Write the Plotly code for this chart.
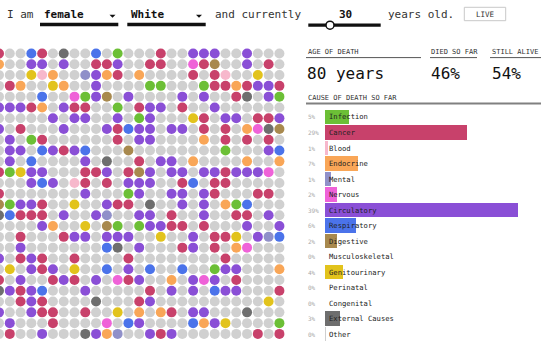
import plotly.graph_objects as go

W, H = 560, 352
FONT = "DejaVu Sans Mono"

# ---- dot grid (one string per row, one character per dot) ----
# . alive (gray)  P circulatory  C cancer  B respiratory  G infection  O endocrine
# Y genitourinary  K external  M nervous  L mental  T digestive  p blood
grid_rows = [
    "C..BC.K..B.G...C..PPP..P...",
    "O..PP.P..CCP..CC..MCT..P.C.",
    "...YpO..LPOC.O....C.Cp..Y..",
    ".CO..YO..P....GG...GCCOCPPC",
    "....B..MGPT.P....P.P..CK.PG",
    "PPPCO.PCC..G.CPP.C..P......",
    ".....P.PP..P.GP...YC.PP.CCP",
    "P.C...P...PCBPP.PP.C.C.OMKT",
    ".P.GC......C.PP....O.C.C.C.",
    ".PP.BPCPB...T........G...PB",
    ".P.B....P.K..C.PP.O....O..O",
    "CGYPP...CCP.CTP.PP.PPCPPPM.",
    "...PBP.pC.C.PPP..CB.CC.....",
    "C.......P...GP..PP.PC...CC.",
    "TGPPC..Y..PCC.K..P.P.OGB...",
    "KBCCC.P..PL..PP.C..P..CC.P.",
    "....PO..Y.TG.GPPCC.C...P..P",
    "..C...CPP.PPP..Y..P.CCY.PLB",
    "..P.......BK.P...CP.C.OM...",
    "P.CPC..C....C........C.....",
    ".Y.PCP.Y..B.P.B..B..GPP...O",
    "C.P..CPC.P.MCP..O.PMP.C....",
    "KPCPB...P.....C.P.P.BPP...C",
    "..CPC....K...CP..........Y.",
    "P..PCC..C..Y.O.OC.PP...K...",
    ".P...C....M.BP....BOPY....G",
    ".C..P...KPOL..PCP.......C.C",
]

dot_colors = {
    ".": "#d0d0d0", "P": "#8a4fd6", "C": "#c8416b", "B": "#4b73ea",
    "G": "#6cbf36", "O": "#f9a657", "Y": "#e2c31c", "K": "#6e6e6e",
    "M": "#ef62d8", "L": "#9090c9", "T": "#a8894e", "p": "#f7b8cc",
}

# ---- cause of death bars ----
categories = ["Infection", "Cancer", "Blood", "Endocrine", "Mental", "Nervous",
              "Circulatory", "Respiratory", "Digestive", "Musculoskeletal",
              "Genitourinary", "Perinatal", "Congenital", "External Causes", "Other"]
bar_values = [4.9, 28.6, 0.7, 6.6, 1.2, 2.4, 39.0, 6.3, 2.4, 0.0, 3.7, 0.0, 0.0, 3.0, 0.2]
pct_labels = ["5%", "29%", "1%", "7%", "1%", "2%", "39%", "6%", "2%", "0%",
              "4%", "0%", "0%", "3%", "0%"]
bar_colors = ["#6cbf36", "#c8416b", "#f7b8cc", "#f9a657", "#9090c9", "#ef62d8",
              "#8a4fd6", "#4b73ea", "#a8894e", "#cccccc", "#e2c31c", "#cccccc",
              "#cccccc", "#6e6e6e", "#cfcfcf"]

header_words = ["I am", "female", "White", "and currently", "30", "years old."]
stat_titles = ["AGE OF DEATH", "DIED SO FAR", "STILL ALIVE"]
stat_values = ["80 years", "46%", "54%"]

xs, ys, cs = [], [], []
for r, row in enumerate(grid_rows):
    for c, ch in enumerate(row):
        xs.append(c)
        ys.append(r)
        cs.append(dot_colors[ch])

fig = go.Figure()
fig.add_trace(go.Scatter(x=xs, y=ys, mode="markers", xaxis="x", yaxis="y",
                         marker=dict(size=10, color=cs, line=dict(width=0)),
                         hoverinfo="skip", showlegend=False))
fig.add_trace(go.Bar(x=bar_values, y=list(range(len(categories))), orientation="h",
                     xaxis="x2", yaxis="y2", width=0.93,
                     marker=dict(color=bar_colors, line=dict(width=0)),
                     hoverinfo="skip", showlegend=False))


def px(x):
    return x / W


def py(y):
    return 1 - y / H


SP = 10.785
X0, Y0 = -1.0, 53.5
grid_w = 297.0

annotations = []


def txt(text, x, y, size, color="#333", bold=False, xanchor="left"):
    annotations.append(dict(text=("<b>%s</b>" % text) if bold else text,
                            x=px(x), y=py(y), xref="paper", yref="paper",
                            xanchor=xanchor, yanchor="middle", showarrow=False,
                            font=dict(family=FONT, size=size, color=color)))


# header sentence
txt(header_words[0], 5, 14, 11)
txt(header_words[1], 42, 14, 11, "#111", True)
txt(header_words[2], 129, 14, 11, "#111", True)
txt(header_words[3], 213, 14, 11)
txt(header_words[4], 345, 14, 11, "#111", True, "center")
txt(header_words[5], 386, 14, 11)
txt("LIVE", 485, 14, 7.5, "#333", False, "center")

# stats
txt(stat_titles[0], 306, 52, 7)
txt(stat_titles[1], 429, 52, 7)
txt(stat_titles[2], 490, 52, 7)
txt(stat_values[0], 305, 73, 16, "#111")
txt(stat_values[1], 429, 73, 16, "#111")
txt(stat_values[2], 490, 73, 16, "#111")
txt("CAUSE OF DEATH SO FAR", 306, 98, 7)

for i, (cat, lab) in enumerate(zip(categories, pct_labels)):
    annotations.append(dict(text=lab, x=px(306), y=i, xref="paper", yref="y2",
                            xanchor="left", yanchor="middle", showarrow=False,
                            font=dict(family=FONT, size=6, color="#aaaaaa")))
    annotations.append(dict(text=cat, x=0, y=i, xref="x2", yref="y2", xshift=2,
                            xanchor="left", yanchor="middle", showarrow=False,
                            font=dict(family=FONT, size=7.2, color="#222")))

shapes = []


def rect(x0, y0, x1, y1, fill, line=None, lw=0):
    shapes.append(dict(type="rect", xref="paper", yref="paper",
                       x0=px(x0), x1=px(x1), y0=py(y1), y1=py(y0),
                       fillcolor=fill, line=dict(width=lw, color=line or fill)))


def hline(x0, x1, y, color, w):
    shapes.append(dict(type="line", xref="paper", yref="paper",
                       x0=px(x0), x1=px(x1), y0=py(y), y1=py(y),
                       line=dict(color=color, width=w)))


def tri(xc, yc):
    shapes.append(dict(type="path", xref="paper", yref="paper",
                       path="M %f %f L %f %f L %f %f Z" % (px(xc - 3), py(yc - 1.5), px(xc + 3), py(yc - 1.5), px(xc), py(yc + 1.5)),
                       fillcolor="#111", line=dict(width=0)))


rect(40, 22.7, 118.3, 26.2, "#111")
rect(127.3, 22.7, 205.7, 26.2, "#111")
tri(112.5, 16.3)
tri(199, 16.3)
rect(308.3, 23.4, 380.7, 26.8, "#111")
shapes.append(dict(type="circle", xref="paper", yref="paper",
                   x0=px(326), x1=px(334), y0=py(29.2), y1=py(21.2),
                   fillcolor="white", line=dict(color="#111", width=1.5)))
rect(464.3, 7.3, 505.7, 20.7, "white", "#c8c8c8", 1)

hline(306, 421, 57.6, "#555", 1)
hline(430, 477, 57.6, "#555", 1)
hline(490, 541, 57.6, "#555", 1)
hline(306, 541, 103.5, "#808080", 2)

fig.update_layout(
    width=W, height=H, margin=dict(l=0, r=0, t=0, b=0),
    paper_bgcolor="white", plot_bgcolor="rgba(0,0,0,0)",
    showlegend=False, bargap=0,
    xaxis=dict(domain=[0, grid_w / W], range=[(0 - X0) / SP, (grid_w - X0) / SP],
               visible=False, fixedrange=True),
    yaxis=dict(domain=[0, 1], range=[(H - Y0) / SP, (0 - Y0) / SP],
               visible=False, fixedrange=True),
    xaxis2=dict(domain=[325 / W, 1], range=[0, 235 / 4.95], anchor="y2",
                visible=False, fixedrange=True),
    yaxis2=dict(domain=[1 - 342.2 / H, 1 - 109.2 / H], range=[14.5, -0.5],
                anchor="x2", visible=False, fixedrange=True),
    annotations=annotations, shapes=shapes,
)

fig.write_html("out.html")
